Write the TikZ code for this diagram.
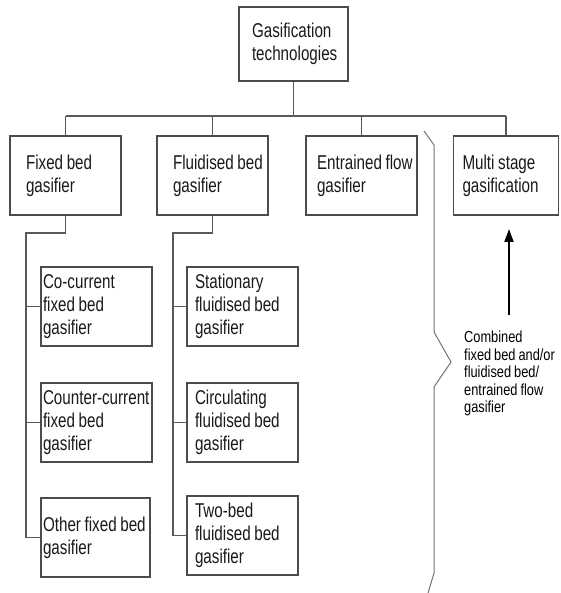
\documentclass[tikz,border=0pt]{standalone}
\usepackage{fontspec}
\setmainfont{Liberation Sans}[FakeStretch=0.76]
\newfontfamily\smallfont{Liberation Sans}[FakeStretch=0.8]
\newcommand\ws{\nobreak\hspace{3.6pt}\nobreak}
\newcommand\wss{\nobreak\hspace{3pt}\nobreak}
\usetikzlibrary{arrows.meta}
\begin{document}
\begin{tikzpicture}[x=1pt,y=-1pt,
  box/.style={draw=black!70, line width=1.1pt, rectangle, minimum height=79pt,
    align=left, text=black!90, font=\fontsize{20}{23}\selectfont, inner ysep=0pt},
  wire/.style={draw=black!65, line width=1.1pt},
  brace/.style={draw=black!55, line width=1pt},
  bigarrow/.style={draw=black, line width=2pt, -{Triangle[length=13pt,width=9pt]}}
]
\useasboundingbox (0,0) rectangle (560,593);
% top box
\node[box, minimum height=74pt, text width=83pt, inner xsep=13pt] (top) at (293.5,44) {Gasification\\technologies};
% second row
\node[box, text width=79pt, inner xsep=16pt] (fixed) at (65.5,175.5) {Fixed\ws bed\\gasifier};
\node[box, text width=79pt, inner xsep=16pt] (fluid) at (212.5,175.5) {Fluidised\ws bed\\gasifier};
\node[box, text width=89pt, inner xsep=11pt] (entr) at (361.5,175.5) {Entrained\ws flow\\gasifier};
\node[box, text width=87pt, inner xsep=9pt] (multi) at (506,175.5) {Multi\ws stage\\gasification};
% fixed bed sub boxes
\node[box, text width=107pt, inner xsep=2pt] (cocur) at (96.5,306.5) {Co-current\\fixed\ws bed\\gasifier};
\node[box, text width=107pt, inner xsep=2pt] (counter) at (96.5,422.5) {\mbox{Counter-current}\\fixed\ws bed\\gasifier};
\node[box, text width=105pt, inner xsep=2pt] (other) at (95.5,537.5) {Other\ws fixed\ws bed\\gasifier};
% fluidised sub boxes
\node[box, text width=95pt, inner xsep=8pt] (stat) at (242.5,306.5) {Stationary\\fluidised\ws bed\\gasifier};
\node[box, text width=95pt, inner xsep=8pt] (circ) at (242.5,422.5) {Circulating\\fluidised\ws bed\\gasifier};
\node[box, text width=95pt, inner xsep=8pt] (twob) at (242.5,535.5) {Two-bed\\fluidised\ws bed\\gasifier};
% bus
\coordinate (busL) at (65.5,116);
\coordinate (busR) at (506,116);
\draw[wire] (busL) -- (busR);
\draw[wire] (top.south) -- (top.south |- busL);
\draw[wire] (fixed.north) -- (fixed.north |- busL);
\draw[wire] (fluid.north) -- (fluid.north |- busL);
\draw[wire] (entr.north) -- (entr.north |- busL);
\draw[wire] (multi.north) -- (multi.north |- busL);
% fixed bed tree
\coordinate (fA) at (26,233);
\draw[wire] (fixed.south) |- (fA) -- (fA |- other.west);
\draw[wire] (fA |- cocur.west) -- (cocur.west);
\draw[wire] (fA |- counter.west) -- (counter.west);
\draw[wire] (fA |- other.west) -- (other.west);
% fluidised tree
\coordinate (gA) at (173,233);
\draw[wire] (fluid.south) |- (gA) -- (gA |- twob.west);
\draw[wire] (gA |- stat.west) -- (stat.west);
\draw[wire] (gA |- circ.west) -- (circ.west);
\draw[wire] (gA |- twob.west) -- (twob.west);
% brace
\draw[brace] (424,131) -- (434,145) -- (434,332) -- (451,362) -- (434,387) -- (434,573) -- (428,593);
% combined text and arrow
\node[anchor=north west, inner sep=0pt, align=left, text=black,
  font=\smallfont\fontsize{16}{17.5}\selectfont] (comb) at (464,331)
  {Combined\\fixed\wss bed\wss and/or\\fluidised\wss bed/\\entrained\wss flow\\gasifier};
\coordinate (arrS) at (509,315);
\coordinate (arrE) at (509,229);
\draw[bigarrow] (arrS) -- (arrE);
\end{tikzpicture}
\end{document}
